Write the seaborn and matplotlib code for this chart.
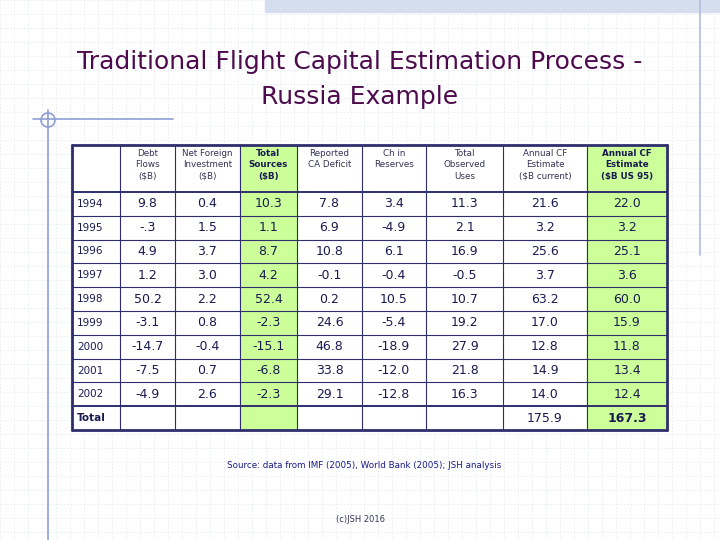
import matplotlib
matplotlib.use("Agg")
import matplotlib.pyplot as plt
import seaborn as sns
from matplotlib.patches import Rectangle, Circle

sns.set_theme(style="white")

headers = ["", "Debt\nFlows\n($B)", "Net Foreign\nInvestment\n($B)", "Total\nSources\n($B)",
           "Reported\nCA Deficit", "Ch in\nReserves", "Total\nObserved\nUses",
           "Annual CF\nEstimate\n($B current)", "Annual CF\nEstimate\n($B US 95)"]
years = ["1994", "1995", "1996", "1997", "1998", "1999", "2000", "2001", "2002", "Total"]
debt_flows = ["9.8", "-.3", "4.9", "1.2", "50.2", "-3.1", "-14.7", "-7.5", "-4.9", ""]
net_foreign = ["0.4", "1.5", "3.7", "3.0", "2.2", "0.8", "-0.4", "0.7", "2.6", ""]
total_sources = ["10.3", "1.1", "8.7", "4.2", "52.4", "-2.3", "-15.1", "-6.8", "-2.3", ""]
ca_deficit = ["7.8", "6.9", "10.8", "-0.1", "0.2", "24.6", "46.8", "33.8", "29.1", ""]
ch_reserves = ["3.4", "-4.9", "6.1", "-0.4", "10.5", "-5.4", "-18.9", "-12.0", "-12.8", ""]
total_uses = ["11.3", "2.1", "16.9", "-0.5", "10.7", "19.2", "27.9", "21.8", "16.3", ""]
cf_current = ["21.6", "3.2", "25.6", "3.7", "63.2", "17.0", "12.8", "14.9", "14.0", "175.9"]
cf_95 = ["22.0", "3.2", "25.1", "3.6", "60.0", "15.9", "11.8", "13.4", "12.4", "167.3"]
columns = [years, debt_flows, net_foreign, total_sources, ca_deficit, ch_reserves,
           total_uses, cf_current, cf_95]

fig = plt.figure(figsize=(7.2, 5.4), dpi=100)
ax = fig.add_axes([0, 0, 1, 1])
ax.set_xlim(0, 720)
ax.set_ylim(540, 0)
ax.axis("off")

# faint background grid
for g in range(0, 721, 14):
    ax.plot([g, g], [0, 540], color="#e6ecf5", lw=0.6, ls=(0, (2, 2)), zorder=0)
for g in range(0, 541, 14):
    ax.plot([0, 720], [g, g], color="#e6ecf5", lw=0.6, ls=(0, (2, 2)), zorder=0)
ax.add_patch(Rectangle((265, 0), 455, 12, color="#d5deee", zorder=1))
ax.plot([700, 700], [0, 255], color="#b0bde0", lw=1.2)
ax.plot([33, 173], [119, 119], color="#8e9ed6", lw=1.2)
ax.plot([48, 48], [110, 540], color="#8e9ed6", lw=1.2)
ax.add_patch(Circle((48, 120), 7, fill=False, ec="#8e9ed6", lw=1.2))

ax.text(360, 62, "Traditional Flight Capital Estimation Process -", ha="center", va="center",
        fontsize=18, color="#4d0a4d")
ax.text(360, 97, "Russia Example", ha="center", va="center", fontsize=18, color="#4d0a4d")

xs = [72, 120, 175, 240, 297, 362, 426, 503, 587, 667]
top, hdr_bot, row_h = 145, 192, 23.8
nrows = len(years)
bottom = hdr_bot + nrows * row_h
green = "#ccff99"
border = "#2e2e6e"

ax.add_patch(Rectangle((xs[0], top), xs[-1] - xs[0], bottom - top, color="white", zorder=2))
for ci in (3, 8):
    ax.add_patch(Rectangle((xs[ci], top), xs[ci + 1] - xs[ci], bottom - top, color=green, zorder=2))

for i, x in enumerate(xs):
    ax.plot([x, x], [top, bottom], color=border, lw=2 if i in (0, len(xs) - 1) else 0.8, zorder=3)
ax.plot([xs[0], xs[-1]], [top, top], color=border, lw=2, zorder=3)
ax.plot([xs[0], xs[-1]], [bottom, bottom], color=border, lw=2, zorder=3)
ax.plot([xs[0], xs[-1]], [hdr_bot, hdr_bot], color=border, lw=1.4, zorder=3)
for r in range(1, nrows):
    y = hdr_bot + r * row_h
    ax.plot([xs[0], xs[-1]], [y, y], color=border, lw=1.4 if r == nrows - 1 else 0.8, zorder=3)

for ci, h in enumerate(headers):
    bold = ci in (3, 8)
    ax.text((xs[ci] + xs[ci + 1]) / 2, top + 4, h, ha="center", va="top", fontsize=6.3,
            color="#1a1a50" if bold else "#333355", fontweight="bold" if bold else "normal",
            linespacing=1.35, zorder=4)

for ci, col in enumerate(columns):
    for r, v in enumerate(col):
        yc = hdr_bot + (r + 0.5) * row_h
        if ci == 0:
            ax.text(xs[0] + 5, yc, v, ha="left", va="center", fontsize=7.5,
                    color="#1a1a50", fontweight="bold" if v == "Total" else "normal", zorder=4)
        else:
            ax.text((xs[ci] + xs[ci + 1]) / 2, yc, v, ha="center", va="center", fontsize=9,
                    color="#1a1a50", fontweight="bold" if (ci == 8 and r == nrows - 1) else "normal",
                    zorder=4)

ax.text(364, 466, "Source: data from IMF (2005), World Bank (2005); JSH analysis", ha="center",
        va="center", fontsize=6.3, color="#1a1a8a")
ax.text(360, 520, "(c)JSH 2016", ha="center", va="center", fontsize=6, color="#333355")

fig.savefig("out.png", dpi=100)
